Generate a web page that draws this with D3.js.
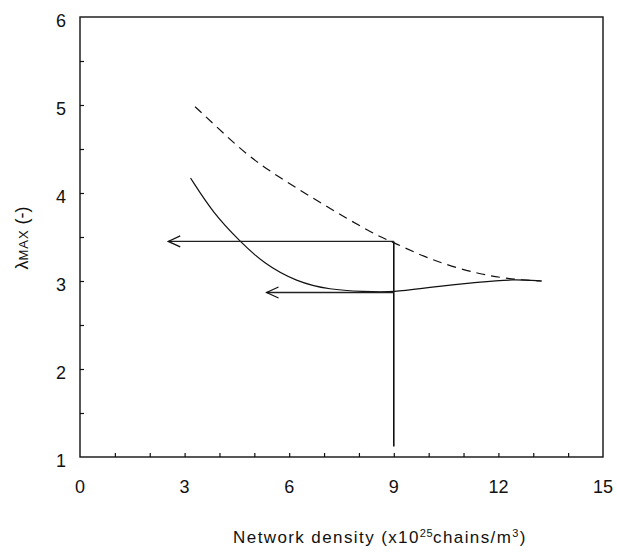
<!DOCTYPE html>
<html>
<head>
<meta charset="utf-8">
<script src="https://cdn.jsdelivr.net/npm/d3@7"></script>
<style>
  body { margin: 0; background: #fff; }
  svg text { font-family: "Liberation Sans", Arial, sans-serif; fill: #111; }
</style>
</head>
<body>
<svg id="chart"></svg>
<script>
// values
const dashedX = [3.3, 3.82, 4.78, 5.74, 6.69, 7.65, 8.6, 8.99, 10.04, 11.47, 12.62, 13.24];
const dashedY = [4.98, 4.79, 4.43, 4.17, 3.94, 3.71, 3.5, 3.44, 3.24, 3.07, 3.01, 3.0];
const solidX = [3.17, 3.82, 4.59, 5.26, 6.21, 7.17, 8.12, 8.99, 10.04, 11.47, 12.43, 13.24];
const solidY = [4.17, 3.77, 3.45, 3.2, 2.99, 2.9, 2.88, 2.87, 2.93, 2.99, 3.02, 3.0];
const arrowY = [3.45, 2.87];
const arrowTipX = [2.53, 5.35];
const arrowFromX = 9;
const dropLine = { x: 9, y0: 1.12, y1: 3.45 };
const xTicks = [0, 3, 6, 9, 12, 15];
const yTicks = [1, 2, 3, 4, 5, 6];

const width = 617, height = 552;
const margin = { top: 17, right: 14, bottom: 95, left: 80 };
const innerW = width - margin.left - margin.right;
const innerH = height - margin.top - margin.bottom;

const svg = d3.select('#chart')
  .attr('width', width)
  .attr('height', height);

const g = svg.append('g')
  .attr('transform', `translate(${margin.left},${margin.top})`);

const x = d3.scaleLinear().domain([0, 15]).range([0, innerW]);
const y = d3.scaleLinear().domain([1, 6]).range([innerH, 0]);

// frame
g.append('rect')
  .attr('width', innerW)
  .attr('height', innerH)
  .attr('fill', 'none')
  .attr('stroke', '#111')
  .attr('stroke-width', 1.4);

// inward ticks, every 1 on x and 0.5 on y
const xAxis = d3.axisTop(x).tickValues(d3.range(1, 15)).tickSize(4).tickFormat('');
g.append('g')
  .attr('transform', `translate(0,${innerH})`)
  .call(xAxis)
  .call(a => a.select('.domain').remove());

const yAxis = d3.axisRight(y).tickValues(d3.range(1.5, 6, 0.5)).tickSize(4).tickFormat('');
g.append('g')
  .call(yAxis)
  .call(a => a.select('.domain').remove());

g.selectAll('.tick line').attr('stroke', '#111').attr('stroke-width', 1.2);

// tick labels
g.selectAll('.xlab')
  .data(xTicks)
  .join('text')
  .attr('class', 'xlab')
  .attr('x', d => x(d))
  .attr('y', innerH + 36)
  .attr('text-anchor', 'middle')
  .style('font-size', '18px')
  .text(d => d);

g.selectAll('.ylab')
  .data(yTicks)
  .join('text')
  .attr('class', 'ylab')
  .attr('x', -19)
  .attr('y', d => y(d) + 10)
  .attr('text-anchor', 'middle')
  .style('font-size', '18px')
  .text(d => d);

// curves
const dashedData = dashedX.map((d, i) => [d, dashedY[i]]);
const solidData = solidX.map((d, i) => [d, solidY[i]]);

const line = d3.line()
  .x(d => x(d[0]))
  .y(d => y(d[1]))
  .curve(d3.curveBasis);

g.append('path')
  .datum(dashedData)
  .attr('d', line)
  .attr('fill', 'none')
  .attr('stroke', '#111')
  .attr('stroke-width', 1.2)
  .attr('stroke-dasharray', '9,6');

g.append('path')
  .datum(solidData)
  .attr('d', line)
  .attr('fill', 'none')
  .attr('stroke', '#111')
  .attr('stroke-width', 1.2);

// vertical drop line at x = 9
g.append('line')
  .attr('x1', x(dropLine.x))
  .attr('x2', x(dropLine.x))
  .attr('y1', y(dropLine.y0))
  .attr('y2', y(dropLine.y1))
  .attr('stroke', '#111')
  .attr('stroke-width', 1.6);

// horizontal arrows
arrowY.forEach((v, i) => {
  const tip = x(arrowTipX[i]);
  const yy = y(v);
  g.append('line')
    .attr('x1', x(arrowFromX))
    .attr('x2', tip)
    .attr('y1', yy)
    .attr('y2', yy)
    .attr('stroke', '#222')
    .attr('stroke-width', 1.4);
  g.append('path')
    .attr('d', `M${tip + 12},${yy - 5.5}L${tip},${yy}L${tip + 12},${yy + 5.5}`)
    .attr('fill', 'none')
    .attr('stroke', '#111')
    .attr('stroke-width', 1.2);
});

// axis titles
const xt = svg.append('text')
  .attr('x', 380)
  .attr('y', 543)
  .attr('text-anchor', 'middle')
  .style('font-size', '17px')
  .style('letter-spacing', '1.4px');
xt.append('tspan').text('Network density (x10');
xt.append('tspan').attr('dy', -6).style('font-size', '11px').style('letter-spacing', '0.5px').text('25');
xt.append('tspan').attr('dy', 6).text('chains/m');
xt.append('tspan').attr('dy', -6).style('font-size', '11px').text('3');
xt.append('tspan').attr('dy', 6).text(')');

const yt = svg.append('text')
  .attr('transform', 'translate(28,238) rotate(-90)')
  .attr('text-anchor', 'middle')
  .style('font-size', '18px');
yt.append('tspan').text('λ');
yt.append('tspan').style('font-size', '13px').style('letter-spacing', '1px').text('MAX');
yt.append('tspan').text(' (-)');
</script>
</body>
</html>
